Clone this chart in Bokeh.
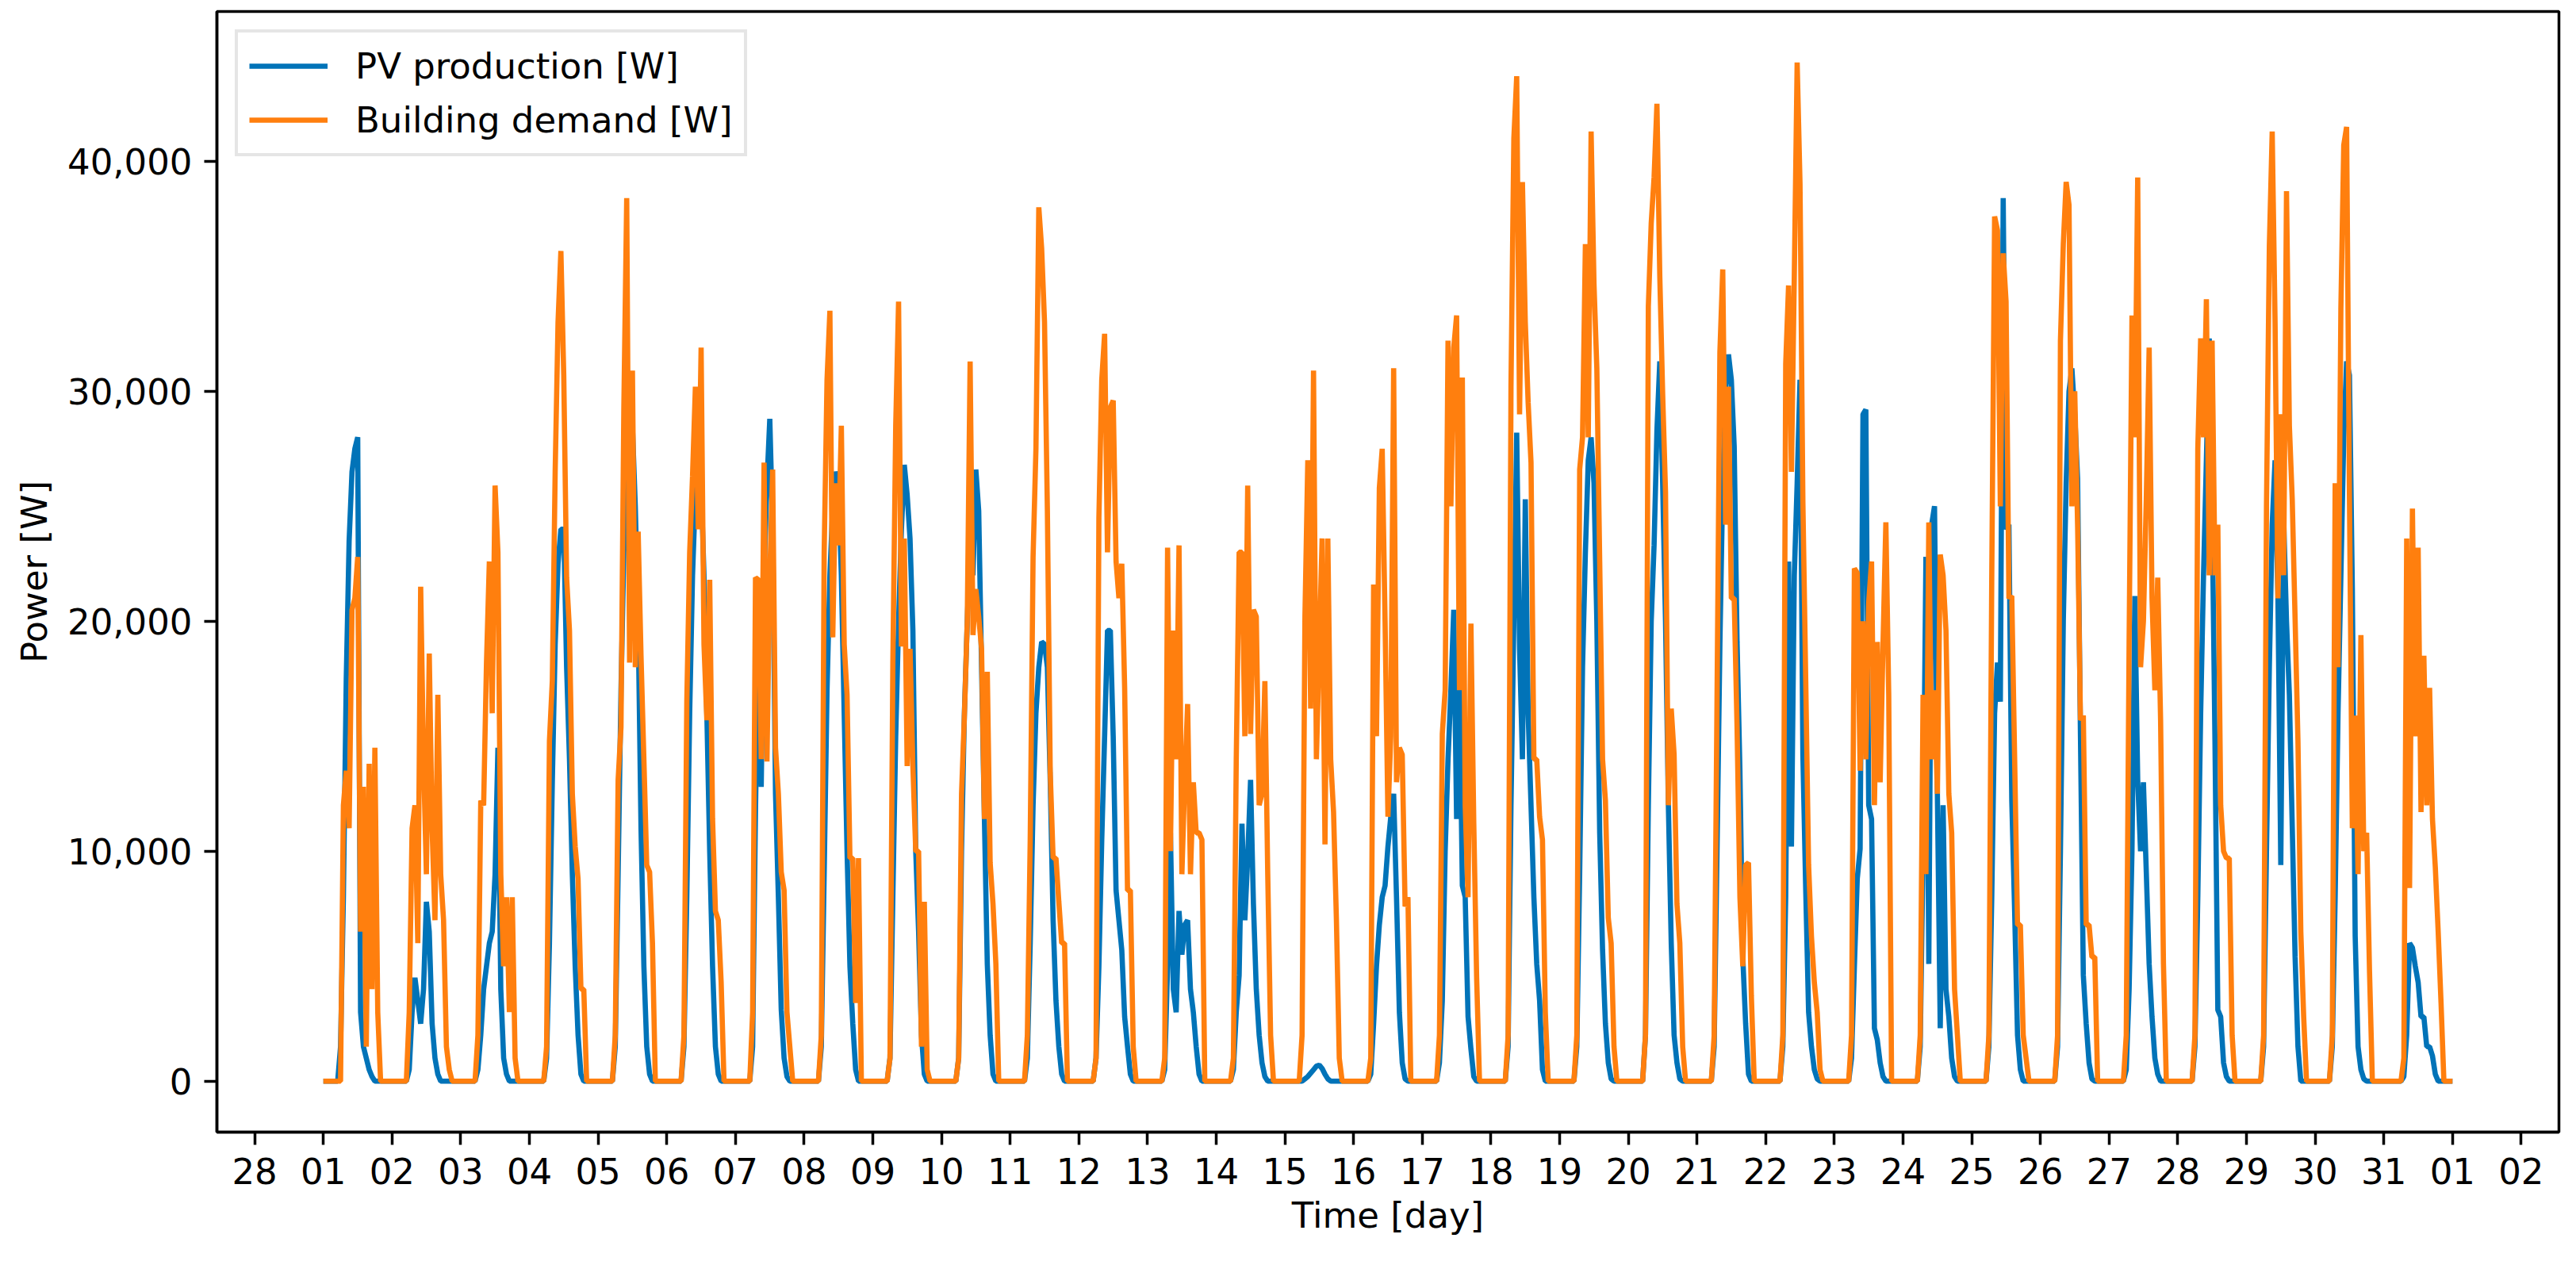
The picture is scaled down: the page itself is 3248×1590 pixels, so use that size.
from datetime import datetime, timedelta
from bokeh.plotting import figure
from bokeh.models import (Range1d, DaysTicker, DatetimeTickFormatter,
                          SingleIntervalTicker, NumeralTickFormatter)
from bokeh.embed import file_html
from bokeh.resources import INLINE

# ---- data: hourly values from 06:00 to 20:00 for every day of March (other hours are 0) ----
first_hour = 6
pv_days = [
    [1500, 8000, 17500, 23500, 26500, 27500, 28000, 3000, 1500, 1000, 500, 200, 0, 0, 0],
    [500, 3000, 4500, 3500, 2500, 4000, 7800, 6500, 2500, 1000, 300, 0, 0, 0, 0],
    [500, 2000, 4000, 5000, 6000, 6500, 9000, 14500, 4000, 1000, 300, 0, 0, 0, 0],
    [1000, 6000, 13000, 19000, 22500, 24000, 24000, 18000, 14000, 9000, 5000, 2000, 300, 0, 0],
    [1500, 9000, 17000, 23000, 26500, 28000, 28500, 25000, 20000, 11000, 5000, 1500, 300, 0, 0],
    [1500, 8000, 16000, 22000, 25500, 26800, 26000, 22000, 16000, 10000, 5000, 1500, 300, 0, 0],
    [1500, 11700, 20000, 12800, 22000, 26000, 28800, 24000, 12500, 8000, 3100, 1000, 200, 0, 0],
    [1500, 9000, 17000, 22000, 25000, 26500, 26000, 22000, 16000, 10000, 5000, 2500, 500, 0, 0],
    [1000, 8000, 15000, 20000, 24000, 26800, 25500, 23600, 19600, 10000, 6500, 2000, 300, 0, 0],
    [1000, 10000, 16000, 20000, 23500, 22000, 26600, 24800, 18000, 11400, 5100, 2000, 300, 0, 0],
    [1000, 6000, 12000, 16000, 18000, 19100, 19000, 18000, 13000, 7000, 3500, 1500, 300, 0, 0],
    [1000, 5000, 10500, 15000, 19600, 19600, 15000, 8300, 7000, 5700, 2800, 1500, 300, 0, 0],
    [500, 5000, 10800, 4000, 3000, 7400, 5500, 6800, 7000, 4000, 3000, 1500, 300, 0, 0],
    [500, 3000, 4600, 11200, 7000, 9700, 13100, 7700, 4000, 2000, 800, 200, 0, 0, 0],
    [0, 100, 200, 350, 500, 650, 700, 550, 300, 100, 0, 0, 0, 0, 0],
    [300, 2500, 5000, 6800, 8000, 8500, 10200, 11500, 12500, 8000, 3000, 800, 100, 0, 0],
    [800, 3500, 10000, 14000, 17000, 20500, 11400, 17600, 8500, 8000, 2800, 1400, 200, 0, 0],
    [1500, 12000, 20000, 28200, 18800, 14000, 25300, 16000, 12000, 8000, 5100, 3500, 500, 0, 0],
    [1500, 9000, 18000, 23000, 27000, 28000, 26000, 20000, 10800, 5700, 2500, 800, 100, 0, 0],
    [2000, 12000, 20000, 23300, 28300, 31300, 26000, 20000, 12000, 6000, 2000, 800, 100, 0, 0],
    [1500, 10000, 19000, 26000, 30000, 31600, 30500, 27600, 19100, 13500, 5400, 2500, 300, 0, 0],
    [1500, 8000, 22600, 10200, 22000, 26000, 30500, 14200, 8300, 3000, 1500, 500, 100, 0, 0],
    [1000, 5000, 8800, 10100, 29000, 29200, 12000, 11400, 2300, 1800, 800, 200, 0, 0, 0],
    [1500, 10000, 22800, 5100, 24200, 25000, 12500, 2300, 12000, 4000, 2800, 1000, 200, 0, 0],
    [1500, 8000, 16000, 18200, 16500, 38400, 24000, 24200, 12200, 7400, 2000, 500, 0, 0, 0],
    [1500, 10000, 20000, 26000, 30000, 31000, 29000, 26200, 15000, 4600, 2500, 800, 100, 0, 0],
    [500, 4000, 10000, 21100, 13100, 10000, 13000, 9100, 5100, 2800, 1000, 300, 0, 0, 0],
    [1500, 8000, 16000, 22000, 27000, 32300, 25000, 14800, 3100, 2800, 800, 200, 0, 0, 0],
    [1500, 10000, 18000, 24200, 27000, 21100, 9400, 24500, 20000, 16800, 11100, 5400, 1500, 0, 0],
    [1500, 8000, 16000, 22000, 28000, 31300, 30700, 21400, 6300, 1500, 500, 100, 0, 0, 0],
    [0, 200, 2000, 6000, 5800, 5000, 4300, 2800, 2800, 1500, 1500, 1100, 300, 0, 0],
]
demand_days = [
    [0, 12000, 13500, 11000, 20500, 21000, 22800, 6500, 12800, 1500, 13800, 4000, 14500, 3000, 0],
    [3000, 11000, 12000, 6000, 21500, 14000, 9000, 18600, 11000, 7000, 16800, 9000, 7000, 1500, 500],
    [2000, 12200, 12000, 18200, 22600, 16000, 25900, 23000, 9000, 5000, 8000, 3000, 8000, 1000, 0],
    [1500, 14800, 17400, 26500, 33000, 36100, 30700, 21900, 19600, 12500, 10200, 8800, 4000, 4000, 0],
    [2000, 13100, 15400, 29300, 38400, 18200, 30900, 18000, 23900, 18500, 14000, 9400, 9100, 6000, 0],
    [2000, 16500, 23000, 26300, 30200, 24000, 31900, 19000, 15700, 21800, 11400, 7400, 7000, 4300, 0],
    [3000, 21900, 21800, 14000, 26900, 13900, 22000, 26600, 14500, 12500, 9100, 8300, 3000, 1500, 0],
    [2000, 23000, 30500, 33500, 19300, 26000, 23300, 28500, 19000, 16800, 9700, 9700, 3400, 9700, 0],
    [1000, 18200, 28500, 33900, 18900, 23600, 13700, 18800, 13700, 10000, 10000, 1500, 7800, 500, 0],
    [1000, 12500, 15900, 20000, 31300, 19400, 21400, 20200, 18800, 11400, 17800, 9500, 7700, 5100, 0],
    [2000, 10500, 22800, 27500, 38000, 36200, 33000, 24800, 13400, 9700, 9700, 7800, 6000, 6000, 0],
    [1000, 24500, 30500, 32500, 23000, 29300, 29600, 22600, 21000, 22500, 17100, 8300, 8300, 1500, 0],
    [1000, 23200, 10000, 19600, 14000, 23300, 9000, 13100, 16400, 9000, 13000, 10800, 10800, 10500, 0],
    [1000, 14000, 23000, 23000, 15000, 25900, 15100, 20500, 20200, 12000, 12500, 17400, 9000, 2000, 0],
    [2000, 20200, 27000, 16200, 30900, 14000, 18800, 23600, 10300, 23600, 14000, 11700, 7000, 1000, 0],
    [1000, 21600, 15000, 25800, 27500, 20000, 11500, 15000, 31000, 13000, 14500, 14200, 7600, 8000, 0],
    [2000, 15100, 17000, 32200, 25000, 31900, 33300, 17000, 30600, 12000, 8000, 19900, 11200, 4500, 0],
    [2000, 30200, 41000, 43700, 29000, 39100, 33000, 29500, 26900, 14000, 14000, 11500, 10500, 3000, 0],
    [2000, 26600, 28000, 36400, 28000, 41300, 34700, 31000, 22600, 14000, 12200, 7100, 6000, 1500, 0],
    [2000, 33700, 37300, 39300, 42500, 35000, 29900, 25600, 12000, 16200, 14200, 7700, 6000, 1500, 0],
    [2000, 16600, 31700, 35300, 24200, 30200, 21000, 21000, 15400, 8000, 5000, 9400, 9500, 3700, 0],
    [2000, 31200, 34600, 26500, 35000, 44300, 39000, 25200, 17400, 9400, 6300, 4300, 3000, 500, 0],
    [2000, 22300, 22100, 13500, 20000, 14000, 20800, 22600, 12000, 19100, 13000, 19000, 24300, 16800, 0],
    [2000, 16800, 9000, 24300, 14000, 17000, 12500, 22900, 22000, 19600, 12500, 10800, 4000, 2000, 0],
    [2000, 21900, 37600, 37000, 25000, 36000, 33900, 21000, 21100, 14000, 6800, 6800, 2000, 1000, 0],
    [2000, 32200, 36400, 39100, 38100, 25000, 30000, 24200, 15700, 15900, 6800, 6800, 5400, 5400, 0],
    [2000, 19100, 33300, 28000, 39300, 18000, 20000, 25300, 31900, 21000, 17000, 21900, 15700, 5100, 0],
    [2000, 27500, 32300, 28000, 34000, 22000, 32200, 22000, 24200, 12000, 10000, 9700, 9700, 2000, 0],
    [2000, 25000, 36300, 41300, 33000, 21000, 29000, 22000, 38700, 28500, 25300, 20100, 14800, 6500, 2800],
    [2000, 26000, 18000, 33600, 40700, 41500, 25300, 11000, 15900, 9000, 19400, 10000, 10800, 4800, 0],
    [0, 1000, 23600, 8400, 24900, 15000, 23200, 11700, 18500, 12000, 17100, 11400, 9300, 6500, 3400],
]
start = datetime(2023, 3, 1)
n_days = 31
series_names = ["PV production [W]", "Building demand [W]"]
series_colors = ["#0173b8", "#ff7f0e"]

# ---- assemble hourly series ----
n_points = n_days * 24 + 1
times = [start + timedelta(hours=i) for i in range(n_points)]
def assemble(days):
    vals = [0.0] * n_points
    for d, row in enumerate(days):
        for k, v in enumerate(row):
            vals[d * 24 + first_hour + k] = v
    return vals
pv = assemble(pv_days)
demand = assemble(demand_days)

ymax = max(max(pv), max(demand))
span = timedelta(days=n_days)
FONT = "DejaVu Sans"
FS = "45px"

p = figure(x_axis_type="datetime", output_backend="svg", toolbar_location=None,
           frame_width=2953, frame_height=1413,
           min_border_left=273, min_border_top=14, min_border_right=6, min_border_bottom=140,
           x_range=Range1d(start - span * 0.05, start + span * 1.05),
           y_range=Range1d(-0.05 * ymax, 1.05 * ymax),
           background_fill_color="white", border_fill_color="white")

p.line(times, pv, line_color=series_colors[0], line_width=6.6, legend_label=series_names[0])
p.line(times, demand, line_color=series_colors[1], line_width=6.6, legend_label=series_names[1])

p.grid.visible = False
p.outline_line_color = "black"
p.outline_line_width = 3.5

p.xaxis.ticker = DaysTicker(days=list(range(1, 32)))
p.xaxis.formatter = DatetimeTickFormatter(days="%d", months="%d", hours="%d")
p.yaxis.ticker = SingleIntervalTicker(interval=10000, num_minor_ticks=0)
p.yaxis.formatter = NumeralTickFormatter(format="0,0")
p.xaxis.axis_label = "Time [day]"
p.yaxis.axis_label = "Power [W]"

for ax in (p.xaxis, p.yaxis):
    ax.axis_line_color = "black"
    ax.axis_line_width = 3.5
    ax.major_tick_line_width = 3.5
    ax.major_tick_in = 0
    ax.major_tick_out = 16
    ax.minor_tick_line_color = None
    ax.major_label_text_font = FONT
    ax.major_label_text_font_size = FS
    ax.major_label_text_color = "black"
    ax.major_label_standoff = 15
    ax.axis_label_text_font = FONT
    ax.axis_label_text_font_size = FS
    ax.axis_label_text_font_style = "normal"
    ax.axis_label_text_color = "black"
p.xaxis.major_label_standoff = 16
p.xaxis.axis_label_standoff = 10
p.yaxis.axis_label_standoff = 12

lg = p.legend[0]
lg.location = "top_left"
lg.margin = 23
lg.padding = 14
lg.spacing = 12
lg.glyph_width = 99
lg.glyph_height = 56
lg.label_height = 56
lg.label_standoff = 35
lg.label_text_font = FONT
lg.label_text_font_size = FS
lg.label_text_color = "black"
lg.border_line_color = "#cccccc"
lg.border_line_width = 4
lg.background_fill_color = "white"
lg.background_fill_alpha = 0.8

open("out.html", "w").write(file_html(p, INLINE))
